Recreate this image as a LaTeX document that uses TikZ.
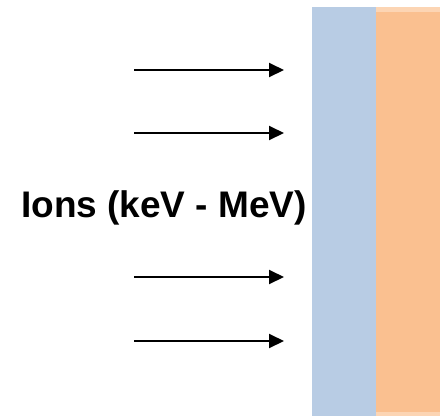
\documentclass[tikz,border=0pt]{standalone}
\usepackage{fontspec}
\setmainfont{Liberation Sans}
\usetikzlibrary{arrows.meta,positioning}
\definecolor{IonBlue}{HTML}{B8CCE4}
\definecolor{IonOrange}{HTML}{FAC090}
\definecolor{IonPeach}{HTML}{FCD5B4}

\begin{document}
\begin{tikzpicture}[
    x=1pt, y=-1pt,
    every node/.style={font=\fontsize{37}{41}\selectfont\bfseries},
    layer/.style={
        rectangle,
        draw=none,
        anchor=north west,
        minimum width=64pt,
        minimum height=409pt,
        inner sep=0pt
    },
    beam/.style={
        -{Triangle[length=15pt,width=14pt]},
        line width=2pt,
        color=black
    }
]

\useasboundingbox (0,0) rectangle (440,416);

\node[layer, fill=IonBlue] (coat) at (312,7) {};
\node[layer, fill=IonOrange] (bulk) at (376,7) {};
\fill[IonPeach] (bulk.north west) rectangle ([yshift=-5pt]bulk.north east);
\fill[IonPeach] ([yshift=4pt]bulk.south west) rectangle (bulk.south east);

\node[anchor=base west, inner sep=0pt] (ions) at (21,217) {Ions (keV - MeV)};

\foreach \y [count=\i] in {70,133,277,341} {
    \coordinate (s\i) at (134,\y);
    \coordinate (e\i) at (284,\y);
    \draw[beam] (s\i) -- (e\i);
}

\end{tikzpicture}
\end{document}
